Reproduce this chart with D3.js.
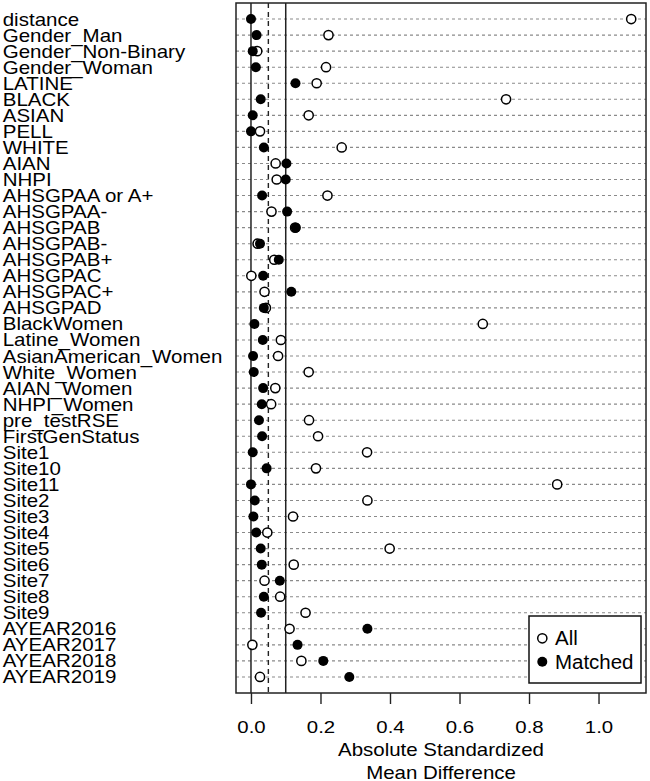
<!DOCTYPE html>
<html><head><meta charset="utf-8">
<script src="https://cdn.jsdelivr.net/npm/d3@7"></script>
<style>body{margin:0;background:#fff}</style>
</head><body><svg id="c" width="650" height="781"></svg>
<script>
const categories = ["distance","Gender_Man","Gender_Non-Binary","Gender_Woman","LATINE","BLACK","ASIAN","PELL","WHITE","AIAN","NHPI","AHSGPAA or A+","AHSGPAA-","AHSGPAB","AHSGPAB-","AHSGPAB+","AHSGPAC","AHSGPAC+","AHSGPAD","BlackWomen","Latine_Women","AsianAmerican_Women","White_Women","AIAN_Women","NHPI_Women","pre_testRSE","FirstGenStatus","Site1","Site10","Site11","Site2","Site3","Site4","Site5","Site6","Site7","Site8","Site9","AYEAR2016","AYEAR2017","AYEAR2018","AYEAR2019"];
const allValues = [1.094,0.223,0.018,0.216,0.189,0.734,0.166,0.026,0.261,0.071,0.074,0.220,0.059,0.127,0.019,0.067,0.001,0.039,0.043,0.667,0.086,0.078,0.166,0.070,0.058,0.167,0.193,0.334,0.187,0.881,0.335,0.121,0.047,0.399,0.123,0.039,0.084,0.157,0.111,0.004,0.145,0.026];
const matchedValues = [0.000,0.016,0.005,0.014,0.128,0.028,0.005,0.000,0.037,0.102,0.100,0.032,0.104,0.129,0.026,0.080,0.035,0.116,0.037,0.010,0.034,0.006,0.008,0.035,0.031,0.023,0.032,0.005,0.045,0.000,0.011,0.007,0.015,0.028,0.031,0.083,0.037,0.029,0.335,0.134,0.208,0.283];
const xTicks = [0,0.2,0.4,0.6,0.8,1.0];
const solidRefs = [0, 0.1];
const dashedRefs = [0.05];
const legendItems = ["All","Matched"];
const xTitle = ["Absolute Standardized","Mean Difference"];

const font = "'Liberation Sans', Arial, sans-serif";
const svg = d3.select("#c");
const L = 236, R = 646, T = 3, B = 693;
const x = d3.scaleLinear().domain([-0.0431, 1.1366]).range([L, R]);
const y = d3.scalePoint().domain(categories).range([T, B]).padding(1);

// horizontal dotted guide lines
svg.append("g").selectAll("line").data(categories).join("line")
  .attr("x1", L).attr("x2", R)
  .attr("y1", d => y(d)).attr("y2", d => y(d))
  .attr("stroke", "#8a8a8a").attr("stroke-width", 1.1)
  .attr("stroke-dasharray", "3,3");

// reference lines
svg.append("g").selectAll("line").data(solidRefs).join("line")
  .attr("x1", d => x(d)).attr("x2", d => x(d)).attr("y1", T).attr("y2", B)
  .attr("stroke", "#222").attr("stroke-width", 1.5);
svg.append("g").selectAll("line").data(dashedRefs).join("line")
  .attr("x1", d => x(d)).attr("x2", d => x(d)).attr("y1", T).attr("y2", B)
  .attr("stroke", "#222").attr("stroke-width", 1.4).attr("stroke-dasharray", "5,4");

// points: All (open) then Matched (filled)
svg.append("g").selectAll("circle").data(categories).join("circle")
  .attr("cx", (d,i) => x(allValues[i])).attr("cy", d => y(d)).attr("r", 4.6)
  .attr("fill", "#fff").attr("stroke", "#000").attr("stroke-width", 1.5);
svg.append("g").selectAll("circle").data(categories).join("circle")
  .attr("cx", (d,i) => x(matchedValues[i])).attr("cy", d => y(d)).attr("r", 5)
  .attr("fill", "#000");

// frame
svg.append("rect").attr("x", L).attr("y", T).attr("width", R - L).attr("height", B - T)
  .attr("fill", "none").attr("stroke", "#222").attr("stroke-width", 1.5);

// category labels
svg.append("g").selectAll("text").data(categories).join("text")
  .attr("transform", d => `translate(2.7,${y(d) + 6.5}) scale(1.16,1)`)
  .attr("font-family", font).attr("font-size", 17.7).attr("fill", "#000")
  .text(d => d);

// x axis
const axis = d3.axisBottom(x).tickValues(xTicks).tickSize(11).tickFormat(d3.format(".1f"));
const ax = svg.append("g").attr("transform", `translate(0,${B})`).call(axis);
ax.select(".domain").remove();
ax.selectAll(".tick line").attr("stroke", "#222").attr("stroke-width", 1.4);
ax.selectAll(".tick text").attr("y", 0).attr("dy", 0)
  .attr("transform", "translate(0,40) scale(1.2,1)")
  .attr("font-family", font).attr("font-size", 17).attr("fill", "#000");

// axis title
svg.append("g").selectAll("text").data(xTitle).join("text")
  .attr("transform", (d,i) => `translate(${(L + R) / 2},${755.7 + i * 23.6}) scale(1.17,1)`)
  .attr("text-anchor", "middle").attr("font-family", font).attr("font-size", 17.5)
  .text(d => d);

// legend
const lg = svg.append("g");
lg.append("rect").attr("x", 529).attr("y", 616).attr("width", 112).attr("height", 67)
  .attr("fill", "#fff").attr("stroke", "#111").attr("stroke-width", 1.5);
const ly = d3.scalePoint().domain(legendItems).range([638.3, 661.7]);
lg.selectAll("circle").data(legendItems).join("circle")
  .attr("cx", 542.3).attr("cy", d => ly(d)).attr("r", d => d === "All" ? 4.6 : 5)
  .attr("fill", d => d === "All" ? "#fff" : "#000")
  .attr("stroke", d => d === "All" ? "#000" : "none").attr("stroke-width", 1.5);
lg.selectAll("text").data(legendItems).join("text")
  .attr("transform", d => `translate(555,${ly(d) + 6.8}) scale(1.05,1)`)
  .attr("font-family", font).attr("font-size", 19.5).text(d => d);
</script>
</body></html>
